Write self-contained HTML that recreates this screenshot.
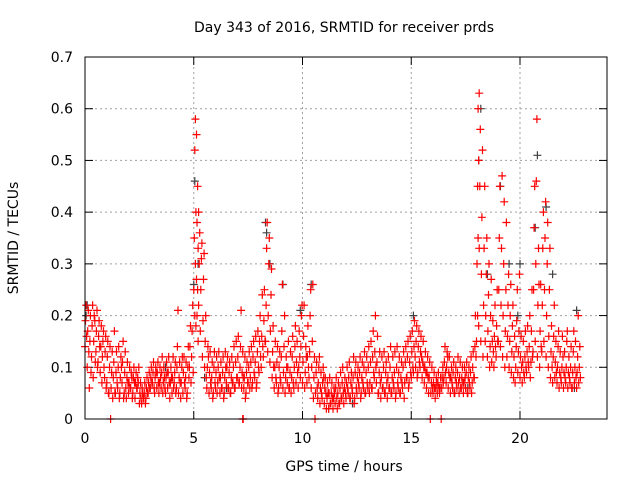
<!DOCTYPE html>
<html><head><meta charset="utf-8"><style>
body{margin:0;background:#fff}
svg{display:block;font-family:"DejaVu Sans","Liberation Sans",sans-serif}
</style></head><body>
<svg id="chart" width="640" height="480" viewBox="0 0 640 480">
<text x="344" y="32" font-size="14" text-anchor="middle">Day 343 of 2016, SRMTID for receiver prds</text>
<text x="344" y="471" font-size="14" text-anchor="middle">GPS time / hours</text>
<text transform="translate(18,238) rotate(-90)" font-size="14" text-anchor="middle">SRMTID / TECUs</text>
<g id="grid"></g>
<g id="axes"></g>
<g id="gray"></g>
<g id="red"></g>
<rect x="85" y="57" width="522" height="362" fill="none" stroke="#000" stroke-width="1"/>
</svg>
<script>
const xTicks=[0,5,10,15,20];
const yTicks=[0,0.1,0.2,0.3,0.4,0.5,0.6,0.7];
const yTickLabels=["0","0.1","0.2","0.3","0.4","0.5","0.6","0.7"];
const grayPoints=[[0.05,0.2],[0.1,0.22],[5.05,0.46],[5.0,0.26],[5.2,0.3],[8.3,0.38],[8.35,0.36],[8.5,0.3],[9.1,0.26],[9.9,0.21],[10.4,0.26],[15.1,0.2],[18.1,0.5],[18.2,0.6],[18.5,0.28],[19.1,0.45],[19.5,0.3],[20.0,0.3],[20.8,0.51],[20.7,0.37],[21.2,0.41],[22.6,0.21],[22.5,0.06],[12.3,0.03],[11.2,0.02],[3.7,0.1],[6.5,0.06],[14.5,0.05],[17.6,0.06],[19.9,0.2],[21.5,0.28],[5.5,0.08]];
const redRows=[
[0.0,[.14,.19,.22,.16]],[0.1,[.1,.17,.21,.13]],[0.2,[.06,.15,.2,.09]],[0.3,[.12,.18,.22,.08]],[0.4,[.15,.2,.19,.11]],[0.5,[.13,.17,.21,.1]],[0.6,[.11,.16,.19,.14]],[0.7,[.09,.14,.18,.07]],[0.8,[.12,.15,.17,.1]],[0.9,[.08,.13,.16,.06]],
[1.0,[.07,.12,.15,.05]],[1.1,[.05,.1,.14,0]],[1.2,[.06,.09,.13,.04]],[1.3,[.08,.11,.17,.05]],[1.4,[.05,.09,.13,.07]],[1.5,[.06,.1,.14,.04]],[1.6,[.05,.08,.12,.1]],[1.7,[.07,.11,.15,.04]],[1.8,[.05,.09,.13,.06]],[1.9,[.04,.08,.11,.07]],
[2.0,[.05,.07,.1,.06]],[2.1,[.06,.09,.08,.04]],[2.2,[.05,.08,.1,.07]],[2.3,[.04,.07,.09,.06]],[2.4,[.06,.08,.07,.1]],[2.5,[.03,.05,.07,.04]],[2.6,[.03,.06,.05,.04]],[2.7,[.04,.05,.07,.03]],[2.8,[.04,.06,.08,.05]],[2.9,[.05,.07,.09,.06]],
[3.0,[.06,.08,.1,.07]],[3.1,[.07,.09,.11,.06]],[3.2,[.05,.08,.1,.09]],[3.3,[.06,.09,.11,.07]],[3.4,[.05,.07,.1,.08]],[3.5,[.06,.09,.12,.05]],[3.6,[.07,.1,.08,.06]],[3.7,[.05,.08,.11,.09]],[3.8,[.06,.09,.12,.07]],[3.9,[.04,.07,.1,.08]],
[4.0,[.05,.08,.12,.06]],[4.1,[.07,.09,.11,.05]],[4.2,[.06,.1,.14,.21]],[4.3,[.05,.08,.11,.07]],[4.4,[.04,.07,.1,.12]],[4.5,[.05,.09,.12,.07]],[4.6,[.06,.08,.11,.04]],[4.7,[.05,.1,.14,.08]],[4.8,[.1,.14,.18,.07]],[4.9,[.12,.17,.22,.09]],
[5.0,[.25,.35,.52,.58]],[5.05,[.2,.3,.4,.55]],[5.1,[.18,.27,.38,.45]],[5.15,[.2,.25,.33,.4]],[5.2,[.15,.22,.3,.36]],[5.3,[.17,.25,.31,.34]],[5.4,[.12,.19,.27,.32]],[5.5,[.1,.15,.2,.08]],[5.6,[.06,.1,.14,.12]],[5.7,[.05,.09,.13,.07]],[5.8,[.06,.08,.11,.04]],[5.9,[.05,.1,.13,.07]],
[6.0,[.06,.09,.12,.05]],[6.1,[.07,.1,.13,.08]],[6.2,[.05,.08,.11,.06]],[6.3,[.06,.09,.12,.04]],[6.4,[.05,.08,.13,.1]],[6.5,[.07,.1,.12,.06]],[6.6,[.06,.09,.11,.05]],[6.7,[.05,.08,.12,.07]],[6.8,[.07,.1,.14,.06]],[6.9,[.06,.11,.15,.08]],
[7.0,[.08,.12,.16,.07]],[7.1,[.07,.1,.14,.21]],[7.2,[.06,.09,.13,0]],[7.25,[0,.08]],[7.3,[.06,.08,.12,.04]],[7.4,[.05,.09,.11,.07]],[7.5,[.07,.1,.13,.06]],[7.6,[.08,.11,.14,.06]],[7.7,[.07,.12,.15,.09]],[7.8,[.08,.11,.16,.06]],[7.9,[.07,.13,.17,.1]],
[8.0,[.09,.15,.2,.12]],[8.1,[.1,.16,.24,.14]],[8.2,[.12,.19,.25,.15]],[8.3,[.15,.22,.33,.38]],[8.4,[.13,.2,.3,.35]],[8.5,[.11,.17,.24,.29]],[8.6,[.08,.13,.18,.1]],[8.7,[.06,.1,.15,.08]],[8.8,[.07,.11,.14,.05]],[8.9,[.06,.1,.13,.08]],
[9.0,[.07,.12,.17,.26]],[9.1,[.06,.09,.14,.2]],[9.2,[.05,.08,.12,.1]],[9.3,[.07,.1,.15,.06]],[9.4,[.06,.09,.13,.05]],[9.5,[.08,.12,.16,.07]],[9.6,[.06,.1,.14,.18]],[9.7,[.07,.11,.15,.09]],[9.8,[.06,.1,.17,.12]],[9.9,[.08,.14,.2,.22]],
[10.0,[.07,.11,.16,.22]],[10.1,[.06,.09,.14,.12]],[10.2,[.07,.12,.18,.1]],[10.3,[.08,.13,.2,.25]],[10.4,[.06,.1,.15,.26]],[10.5,[.04,.08,.12,0]],[10.6,[.05,.09,.11,.06]],[10.7,[.04,.07,.1,.12]],[10.8,[.03,.06,.09,.05]],[10.9,[.04,.07,.1,.08]],
[11.0,[.03,.06,.08,.05]],[11.1,[.02,.04,.07,.05]],[11.2,[.02,.05,.08,.03]],[11.3,[.03,.05,.07,.04]],[11.4,[.02,.04,.06,.05]],[11.5,[.03,.06,.08,.04]],[11.6,[.02,.05,.07,.03]],[11.7,[.03,.06,.09,.04]],[11.8,[.04,.07,.1,.05]],[11.9,[.03,.06,.08,.05]],
[12.0,[.04,.07,.1,.06]],[12.1,[.05,.08,.11,.04]],[12.2,[.04,.07,.09,.06]],[12.3,[.05,.08,.12,.03]],[12.4,[.04,.09,.11,.06]],[12.5,[.05,.08,.1,.07]],[12.6,[.06,.09,.12,.04]],[12.7,[.05,.08,.11,.07]],[12.8,[.06,.1,.13,.05]],[12.9,[.05,.09,.12,.07]],
[13.0,[.06,.1,.14,.05]],[13.1,[.07,.11,.15,.06]],[13.2,[.06,.12,.17,.09]],[13.3,[.08,.13,.2,.1]],[13.4,[.07,.11,.16,.05]],[13.5,[.05,.09,.13,.07]],[13.6,[.04,.08,.12,.06]],[13.7,[.06,.1,.13,.05]],[13.8,[.05,.09,.11,.07]],[13.9,[.04,.08,.12,.06]],
[14.0,[.06,.1,.14,.05]],[14.1,[.05,.08,.12,.07]],[14.2,[.06,.09,.13,.04]],[14.3,[.05,.1,.14,.07]],[14.4,[.06,.09,.12,.05]],[14.5,[.05,.08,.11,.07]],[14.6,[.06,.1,.13,.04]],[14.7,[.07,.11,.14,.08]],[14.8,[.08,.12,.15,.06]],[14.9,[.07,.11,.16,.09]],
[15.0,[.08,.13,.17,.1]],[15.1,[.09,.14,.19,.12]],[15.2,[.1,.15,.18,.08]],[15.3,[.09,.14,.17,.11]],[15.4,[.1,.13,.16,.12]],[15.5,[.08,.11,.15,.1]],[15.6,[.07,.1,.13,.09]],[15.7,[.06,.09,.12,.08]],[15.8,[.05,.08,.11,0]],[15.9,[.05,.07,.1,.06]],
[16.0,[.05,.07,.09,.06]],[16.1,[.04,.06,.08,.07]],[16.2,[.05,.07,.09,.06]],[16.3,[.05,.06,.08,0]],[16.4,[.06,.08,.1,.07]],[16.5,[.08,.11,.14,.09]],[16.6,[.07,.1,.13,.12]],[16.7,[.06,.09,.12,.08]],[16.8,[.05,.08,.1,.07]],[16.9,[.06,.09,.11,.05]],
[17.0,[.05,.08,.1,.07]],[17.1,[.06,.09,.12,.07]],[17.2,[.05,.08,.11,.06]],[17.3,[.06,.08,.1,.07]],[17.4,[.05,.07,.1,.08]],[17.5,[.06,.09,.11,.05]],[17.6,[.05,.08,.1,.07]],[17.7,[.06,.09,.12,.05]],[17.8,[.07,.1,.13,.08]],[17.9,[.08,.14,.2,.12]],
[18.0,[.15,.3,.45,.6]],[18.05,[.2,.35,.5,.63]],[18.1,[.18,.33,.45,.56]],[18.2,[.15,.28,.39,.52]],[18.3,[.12,.22,.33,.45]],[18.4,[.15,.2,.28,.35]],[18.5,[.12,.17,.24,.3]],[18.6,[.1,.14,.2,.27]],[18.7,[.11,.15,.19,.13]],[18.8,[.1,.16,.22,.14]],[18.9,[.12,.18,.25,.15]],
[19.0,[.15,.25,.35,.45]],[19.1,[.14,.22,.33,.47]],[19.2,[.12,.2,.3,.42]],[19.3,[.1,.17,.25,.38]],[19.4,[.12,.16,.22,.28]],[19.5,[.1,.15,.2,.26]],[19.6,[.09,.13,.18,.22]],[19.7,[.08,.12,.16,.07]],[19.8,[.1,.14,.19,.25]],[19.9,[.09,.13,.17,.28]],
[20.0,[.08,.12,.16,.1]],[20.1,[.07,.11,.15,.09]],[20.2,[.08,.12,.17,.1]],[20.3,[.09,.13,.18,.11]],[20.4,[.1,.14,.2,.08]],[20.5,[.11,.17,.25,.12]],[20.6,[.13,.25,.37,.45]],[20.7,[.15,.3,.46,.58]],[20.8,[.12,.22,.33,.26]],[20.9,[.1,.17,.26,.14]],
[21.0,[.13,.22,.33,.4]],[21.1,[.15,.25,.35,.42]],[21.2,[.12,.2,.3,.38]],[21.3,[.1,.16,.25,.33]],[21.4,[.08,.13,.18,.1]],[21.5,[.07,.12,.16,.22]],[21.6,[.08,.11,.15,.09]],[21.7,[.07,.1,.14,.17]],[21.8,[.06,.09,.13,.08]],[21.9,[.07,.1,.16,.12]],
[22.0,[.06,.09,.13,.08]],[22.1,[.07,.1,.15,.17]],[22.2,[.06,.09,.12,.08]],[22.3,[.07,.1,.14,.06]],[22.4,[.06,.09,.13,.17]],[22.5,[.07,.1,.15,.08]],[22.6,[.06,.09,.12,.2]],[22.7,[.07,.1,.14,.08]]
];
const NS='http://www.w3.org/2000/svg';
const X0=85,X1=607,Y0=419,Y1=57,TMAX=24,VMAX=0.7;
function xs(t){return X0+t/TMAX*(X1-X0);}
function ys(v){return Y0-v/VMAX*(Y0-Y1);}
function mk(tag,attrs,parent){const e=document.createElementNS(NS,tag);for(const k in attrs)e.setAttribute(k,attrs[k]);parent.appendChild(e);return e;}
const grid=document.getElementById('grid'),axes=document.getElementById('axes');
yTicks.forEach((v,i)=>{
  const y=ys(v);
  if(i>0&&i<yTicks.length-1){const g=mk('line',{x1:X0,x2:X1,y1:y,y2:y,stroke:'#a0a0a0','stroke-dasharray':'2,3'},grid);
  
  }
  const t1=mk('line',{x1:X0,x2:X0+8,y1:y,y2:y,stroke:'#000'},axes);
  
  
  mk('line',{x1:X1-8,x2:X1,y1:y,y2:y,stroke:'#000'},axes);
  const tx=mk('text',{x:X0-12,y:y+5,'font-size':14,'text-anchor':'end'},axes);
  
  
  tx.textContent=yTickLabels[i];
});
xTicks.forEach(t=>{
  const x=xs(t);
  if(t>0){const g=mk('line',{x1:x,x2:x,y1:Y1,y2:Y0,stroke:'#a0a0a0','stroke-dasharray':'2,3'},grid);
  
  }
  const t1=mk('line',{x1:x,x2:x,y1:Y0,y2:Y0-8,stroke:'#000'},axes);
  
  
  mk('line',{x1:x,x2:x,y1:Y1,y2:Y1+8,stroke:'#000'},axes);
  const tx=mk('text',{x:x,y:Y0+24,'font-size':14,'text-anchor':'middle'},axes);
  
  
  tx.textContent=String(t);
});
function plus(t,v,color,parent){
  const x=xs(t),y=ys(v);
  const p=mk('path',{d:`M${(x-4).toFixed(1)} ${y.toFixed(1)}h8M${x.toFixed(1)} ${(y-4).toFixed(1)}v8`,stroke:color,'stroke-width':1.2,fill:'none'},parent);
  
  
}
const gray=document.getElementById('gray'),red=document.getElementById('red');
grayPoints.forEach(p=>plus(p[0],p[1],'#404040',gray));
redRows.forEach(r=>{r[1].forEach((v,j)=>plus(r[0]+j*0.025,v,'#ff0000',red));});
</script>
</body></html>
